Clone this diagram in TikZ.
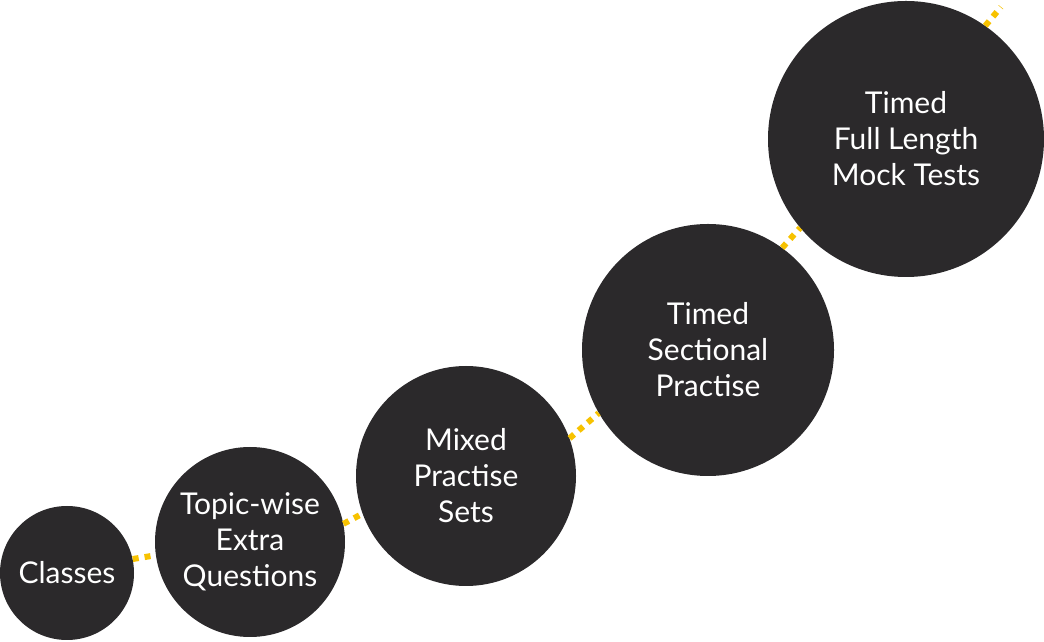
\documentclass[tikz,border=0pt]{standalone}
\usepackage{fontspec}
\setmainfont{Lato}
\usetikzlibrary{positioning}
\definecolor{stepdark}{RGB}{43, 41, 43}
\definecolor{stepgold}{RGB}{247, 194, 0}
\tikzset{
  stage/.style={
    circle,
    fill=stepdark,
    draw=none,
    inner sep=0pt,
    align=center,
    text=white,
    font=\fontsize{30}{36}\selectfont
  },
  trail/.style={
    draw=stepgold,
    line width=6pt,
    line cap=butt,
    dash pattern=on 6pt off 6pt
  }
}
\begin{document}
\begin{tikzpicture}[x=1pt, y=1pt]
          \useasboundingbox (0, 0) rectangle (1044, 642);
          \node[stage, minimum size=134pt] (classes) at (67, 69) {Classes};
          \node[stage, minimum size=190pt] (topic) at (250, 100) {Topic-wise\\Extra\\Questions};
          \node[stage, minimum size=220pt] (mixed) at (466, 166) {Mixed\\Practise\\Sets};
          \node[stage, minimum size=252pt] (sectional) at (708, 292) {Timed\\Sectional\\Practise};
          \node[stage, minimum size=276pt] (mock) at (906, 503) {Timed\\Full Length\\Mock Tests};
          \coordinate (trailend) at (1001, 635);

          \path[trail] (classes.12) -- (topic.188)
                       (topic.11) -- (mixed.200)
                       (mixed.20) -- (sectional.210)
                       (sectional.54) -- (mock.220)
                       (mock.55) -- (trailend);
        \end{tikzpicture}
\end{document}
